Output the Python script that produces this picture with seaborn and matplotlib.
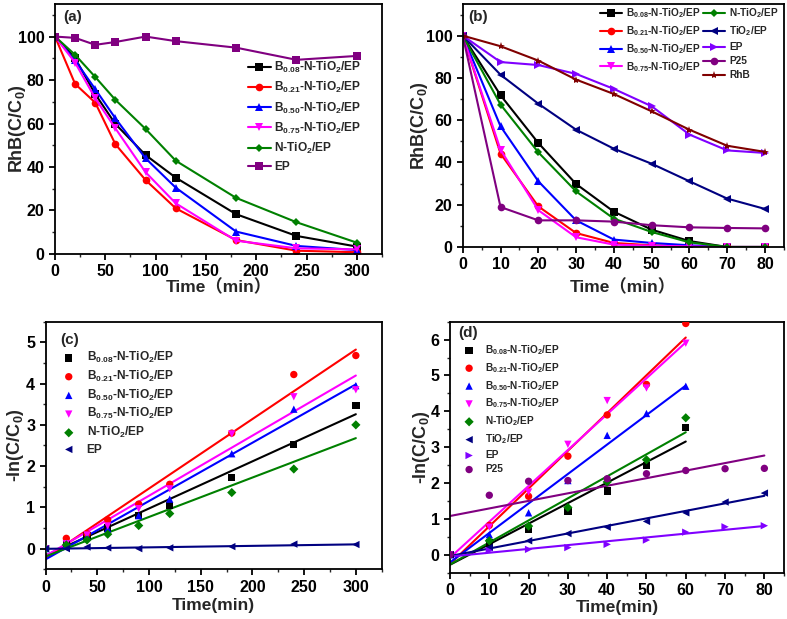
import numpy as np
import matplotlib
matplotlib.use("Agg")
import matplotlib.pyplot as plt
import seaborn as sns

# ---------------- data ----------------
# panel (a): RhB(C/C0) vs time, 0-300 min
t_a = [0, 20, 40, 60, 90, 120, 180, 240, 300]
a_b008 = [100, 90.0, 73.5, 59.8, 45.5, 35.1, 18.3, 8.3, 3.4]
a_b021 = [100, 78.2, 69.6, 50.5, 34.0, 21.0, 6.4, 1.5, 0.8]
a_b050 = [100, 89.0, 75.8, 62.4, 44.0, 30.5, 10.3, 3.7, 1.8]
a_b075 = [100, 88.0, 71.6, 57.8, 37.6, 23.3, 6.1, 2.6, 2.1]
a_ntio2 = [100, 91.6, 81.4, 70.9, 57.5, 42.9, 25.8, 14.6, 5.2]
a_ep = [100, 99.4, 96.2, 97.5, 100.0, 97.9, 94.9, 89.3, 91.1]

# panel (b): RhB(C/C0) vs time, 0-80 min
t_b = [0, 10, 20, 30, 40, 50, 60, 70, 80]
b_b008 = [100, 71.8, 49.2, 29.8, 16.7, 8.2, 2.8, 0.0, 0.0]
b_b021 = [100, 44.2, 19.2, 6.6, 1.9, 0.8, 0.4, 0.0, 0.0]
b_b050 = [100, 57.1, 31.1, 12.6, 3.5, 1.9, 0.8, 0.0, 0.0]
b_b075 = [100, 46.0, 17.4, 4.6, 1.1, 0.6, 0.3, 0.0, 0.0]
b_ntio2 = [100, 67.4, 44.8, 26.3, 13.4, 7.1, 2.2, 0.0, 0.0]
b_tio2 = [100, 81.5, 67.8, 55.5, 46.5, 39.4, 31.1, 22.9, 18.0]
b_ep = [100, 87.5, 86.1, 81.9, 74.8, 66.6, 53.2, 45.7, 44.5]
b_p25 = [100, 18.9, 12.6, 12.6, 12.0, 10.3, 9.3, 9.0, 8.8]
b_rhb = [100, 95.0, 88.2, 79.2, 72.4, 64.2, 55.5, 47.9, 45.0]

# panel (c): -ln(C/C0) vs time, 0-300 min
t_c = [0, 20, 40, 60, 90, 120, 180, 240, 300]
c_b008 = [0, 0.10, 0.31, 0.50, 0.80, 1.05, 1.72, 2.53, 3.47]
c_b021 = [0, 0.25, 0.36, 0.70, 1.08, 1.56, 2.80, 4.22, 4.68]
c_b050 = [0, 0.10, 0.30, 0.48, 0.80, 1.20, 2.30, 3.38, 3.95]
c_b075 = [0, 0.12, 0.33, 0.55, 0.97, 1.45, 2.78, 3.68, 3.85]
c_ntio2 = [0, 0.09, 0.21, 0.35, 0.56, 0.85, 1.36, 1.93, 3.00]
c_ep = [0, 0.00, 0.04, 0.02, 0.00, 0.02, 0.05, 0.11, 0.10]

# panel (d): -ln(C/C0) vs time, 0-80 min
t_d6 = [0, 10, 20, 30, 40, 50, 60]
t_d8 = [0, 10, 20, 30, 40, 50, 60, 70, 80]
d_b008 = [0, 0.33, 0.71, 1.22, 1.78, 2.49, 3.55]
d_b021 = [0, 0.82, 1.63, 2.75, 3.90, 4.75, 6.45]
d_b050 = [0, 0.56, 1.17, 2.07, 3.33, 3.94, 4.70]
d_b075 = [0, 0.77, 1.75, 3.08, 4.30, 4.65, 5.90]
d_ntio2 = [0, 0.39, 0.80, 1.32, 2.03, 2.65, 3.82]
d_tio2 = [0, 0.20, 0.39, 0.59, 0.77, 0.93, 1.17, 1.47, 1.72]
d_ep = [0, 0.12, 0.15, 0.20, 0.29, 0.41, 0.63, 0.78, 0.81]
d_p25 = [0, 1.66, 2.05, 2.07, 2.12, 2.26, 2.35, 2.40, 2.41]

lab_b008 = r"B$_{\mathregular{0.08}}$-N-TiO$_{\mathregular{2}}$/EP"
lab_b021 = r"B$_{\mathregular{0.21}}$-N-TiO$_{\mathregular{2}}$/EP"
lab_b050 = r"B$_{\mathregular{0.50}}$-N-TiO$_{\mathregular{2}}$/EP"
lab_b075 = r"B$_{\mathregular{0.75}}$-N-TiO$_{\mathregular{2}}$/EP"
lab_ntio2 = r"N-TiO$_{\mathregular{2}}$/EP"
lab_tio2 = r"TiO$_{\mathregular{2}}$/EP"
lab_ep = "EP"
lab_p25 = "P25"
lab_rhb = "RhB"

BLACK, RED, BLUE, MAG, GREEN = "#000000", "#FF0000", "#0000FF", "#FF00FF", "#008000"
PURPLE, NAVY, VIOLET, WINE = "#800080", "#000080", "#8000FF", "#800000"

# ---------------- style ----------------
sns.set_style("white")
plt.rcParams["font.family"] = ["Liberation Sans", "Noto Sans CJK SC", "DejaVu Sans"]
plt.rcParams["font.weight"] = "bold"
plt.rcParams["mathtext.default"] = "regular"
plt.rcParams["axes.linewidth"] = 1.3
plt.rcParams["axes.edgecolor"] = "black"

fig = plt.figure(figsize=(7.87, 6.19), dpi=100)
ax_a = fig.add_axes([0.0699, 0.5897, 0.4155, 0.4039])
ax_b = fig.add_axes([0.5880, 0.6010, 0.4080, 0.3926])
ax_c = fig.add_axes([0.0580, 0.0803, 0.4270, 0.4000])
ax_d = fig.add_axes([0.5718, 0.0748, 0.4244, 0.4055])


def style_axes(ax, xlim, ylim, xmaj, xmin, ymaj, ymin):
    ax.set_xlim(*xlim)
    ax.set_ylim(*ylim)
    ax.set_xticks(np.arange(xlim[0], xlim[1] + 1e-9, xmaj))
    ax.set_xticks(np.arange(xlim[0], xlim[1] + 1e-9, xmin), minor=True)
    ax.set_yticks(ymaj)
    ax.set_yticks(ymin, minor=True)
    ax.tick_params(which="major", direction="out", length=4, width=1.3,
                   labelsize=11.5, colors="black", bottom=True, left=True)
    ax.tick_params(which="minor", direction="out", length=2.5, width=1.0,
                   bottom=True, left=True)
    for s in ax.spines.values():
        s.set_visible(True)
        s.set_color("black")
        s.set_linewidth(1.3)


def line(ax, x, y, color, marker, label, ms=5.5):
    sns.lineplot(x=x, y=y, ax=ax, color=color, marker=marker, markersize=ms,
                 markeredgecolor=color, markeredgewidth=0, linewidth=1.5,
                 label=label, legend=False)


# ---------------- (a) ----------------
line(ax_a, t_a, a_b008, BLACK, "s", lab_b008)
line(ax_a, t_a, a_b021, RED, "o", lab_b021)
line(ax_a, t_a, a_b050, BLUE, "^", lab_b050)
line(ax_a, t_a, a_b075, MAG, "v", lab_b075)
line(ax_a, t_a, a_ntio2, GREEN, "D", lab_ntio2, ms=4.5)
line(ax_a, t_a, a_ep, PURPLE, "s", lab_ep)
style_axes(ax_a, (0, 325), (0, 115), 50, 25, np.arange(0, 101, 20), np.arange(10, 111, 20))
ax_a.set_xticks(np.arange(0, 301, 50))
ax_a.set_xticklabels([str(v) for v in range(0, 301, 50)], fontweight="bold")
ax_a.set_ylabel(r"RhB(C/C$_{\mathregular{0}}$)", fontsize=13, fontweight="bold")
ax_a.set_xlabel("Time（min）", fontsize=12.5, fontweight="bold")
ax_a.yaxis.set_label_coords(-0.083, 0.5)
ax_a.xaxis.set_label_coords(0.5, -0.1)
ax_a.text(0.025, 0.948, "(a)", transform=ax_a.transAxes, fontsize=11,
          fontweight="bold", va="center", ha="left")
h, l = ax_a.get_legend_handles_labels()
ax_a.legend(h, l, loc="upper left", bbox_to_anchor=(0.59, 0.775), frameon=False,
            borderpad=0, borderaxespad=0, handlelength=1.9,
            handletextpad=0.3, labelspacing=0.42, prop={"weight": "bold", "size": 8.6})

# ---------------- (b) ----------------
line(ax_b, t_b, b_b008, BLACK, "s", lab_b008)
line(ax_b, t_b, b_b021, RED, "o", lab_b021)
line(ax_b, t_b, b_b050, BLUE, "^", lab_b050)
line(ax_b, t_b, b_b075, MAG, "v", lab_b075)
line(ax_b, t_b, b_ntio2, GREEN, "D", lab_ntio2, ms=4.5)
line(ax_b, t_b, b_tio2, NAVY, "<", lab_tio2)
line(ax_b, t_b, b_ep, VIOLET, ">", lab_ep)
line(ax_b, t_b, b_p25, PURPLE, "o", lab_p25)
line(ax_b, t_b, b_rhb, WINE, "*", lab_rhb, ms=6)
style_axes(ax_b, (0, 85), (0, 115), 10, 5, np.arange(0, 101, 20), np.arange(10, 111, 20))
ax_b.set_xticks(np.arange(0, 81, 10))
ax_b.set_xticklabels([str(v) for v in range(0, 81, 10)], fontweight="bold")
ax_b.set_ylabel(r"RhB(C/C$_{\mathregular{0}}$)", fontsize=13, fontweight="bold")
ax_b.set_xlabel("Time（min）", fontsize=12.5, fontweight="bold")
ax_b.yaxis.set_label_coords(-0.101, 0.5)
ax_b.xaxis.set_label_coords(0.5, -0.13)
ax_b.text(0.017, 0.947, "(b)", transform=ax_b.transAxes, fontsize=11,
          fontweight="bold", va="center", ha="left")
h, l = ax_b.get_legend_handles_labels()
leg_kw = dict(loc="upper left", frameon=False, borderpad=0, borderaxespad=0,
              handlelength=2.2, handletextpad=0.4, labelspacing=0.4,
              prop={"weight": "bold", "size": 7.3})
leg1 = ax_b.legend(h[:4], l[:4], bbox_to_anchor=(0.427, 0.99), **leg_kw)
ax_b.add_artist(leg1)
ax_b.legend(h[4:], l[4:], bbox_to_anchor=(0.748, 0.99), **leg_kw)


# ---------------- (c) / (d) helpers ----------------
def fitted(ax, x, y, color, marker, label, s=28):
    sns.regplot(x=x, y=y, ax=ax, scatter=False, ci=None, color=color,
                line_kws={"linewidth": 1.5})
    sns.scatterplot(x=x, y=y, ax=ax, color=color, marker=marker, s=s,
                    edgecolor="none", label=label, legend=False, zorder=3)


# ---------------- (c) ----------------
fitted(ax_c, t_c, c_b008, BLACK, "s", lab_b008)
fitted(ax_c, t_c, c_b021, RED, "o", lab_b021)
fitted(ax_c, t_c, c_b050, BLUE, "^", lab_b050)
fitted(ax_c, t_c, c_b075, MAG, "v", lab_b075)
fitted(ax_c, t_c, c_ntio2, GREEN, "D", lab_ntio2, s=22)
fitted(ax_c, t_c, c_ep, NAVY, "<", lab_ep)
style_axes(ax_c, (0, 325), (-0.5, 5.5), 50, 25, np.arange(0, 5.1, 1), np.arange(-0.5, 5.6, 1))
ax_c.set_xticks(np.arange(0, 301, 50))
ax_c.set_xticklabels([str(v) for v in range(0, 301, 50)], fontweight="bold")
ax_c.set_yticklabels([str(v) for v in range(0, 6)], fontweight="bold")
ax_c.set_ylabel(r"-ln(C/C$_{\mathregular{0}}$)", fontsize=13, fontweight="bold")
ax_c.set_xlabel("Time(min)", fontsize=12.5, fontweight="bold")
ax_c.yaxis.set_label_coords(-0.059, 0.5)
ax_c.xaxis.set_label_coords(0.5, -0.115)
ax_c.text(0.043, 0.926, "(c)", transform=ax_c.transAxes, fontsize=11,
          fontweight="bold", va="center", ha="left")
h, l = ax_c.get_legend_handles_labels()
ax_c.legend(h, l, loc="upper left", bbox_to_anchor=(0.051, 0.885), frameon=False,
            borderpad=0, borderaxespad=0, handlelength=1.0, handletextpad=1.0,
            labelspacing=0.3, prop={"weight": "bold", "size": 8.6})

# ---------------- (d) ----------------
fitted(ax_d, t_d6, d_b008, BLACK, "s", lab_b008)
fitted(ax_d, t_d6, d_b021, RED, "o", lab_b021)
fitted(ax_d, t_d6, d_b050, BLUE, "^", lab_b050)
fitted(ax_d, t_d6, d_b075, MAG, "v", lab_b075)
fitted(ax_d, t_d6, d_ntio2, GREEN, "D", lab_ntio2, s=22)
fitted(ax_d, t_d8, d_tio2, NAVY, "<", lab_tio2)
fitted(ax_d, t_d8, d_ep, VIOLET, ">", lab_ep)
fitted(ax_d, t_d8, d_p25, PURPLE, "o", lab_p25)
style_axes(ax_d, (0, 85), (-0.5, 6.5), 10, 5, np.arange(0, 6.1, 1), np.arange(-0.5, 6.6, 1))
ax_d.set_xticks(np.arange(0, 81, 10))
ax_d.set_xticklabels([str(v) for v in range(0, 81, 10)], fontweight="bold")
ax_d.set_yticklabels([str(v) for v in range(0, 7)], fontweight="bold")
ax_d.set_ylabel(r"-ln(C/C$_{\mathregular{0}}$)", fontsize=13, fontweight="bold")
ax_d.set_xlabel("Time(min)", fontsize=12.5, fontweight="bold")
ax_d.yaxis.set_label_coords(-0.054, 0.5)
ax_d.xaxis.set_label_coords(0.5, -0.108)
ax_d.text(0.024, 0.955, "(d)", transform=ax_d.transAxes, fontsize=11,
          fontweight="bold", va="center", ha="left")
h, l = ax_d.get_legend_handles_labels()
ax_d.legend(h, l, loc="upper left", bbox_to_anchor=(0.042, 0.915), frameon=False,
            borderpad=0, borderaxespad=0, handlelength=1.0, handletextpad=1.1,
            labelspacing=0.4, prop={"weight": "bold", "size": 7.3})

fig.savefig("out.png", dpi=100)
